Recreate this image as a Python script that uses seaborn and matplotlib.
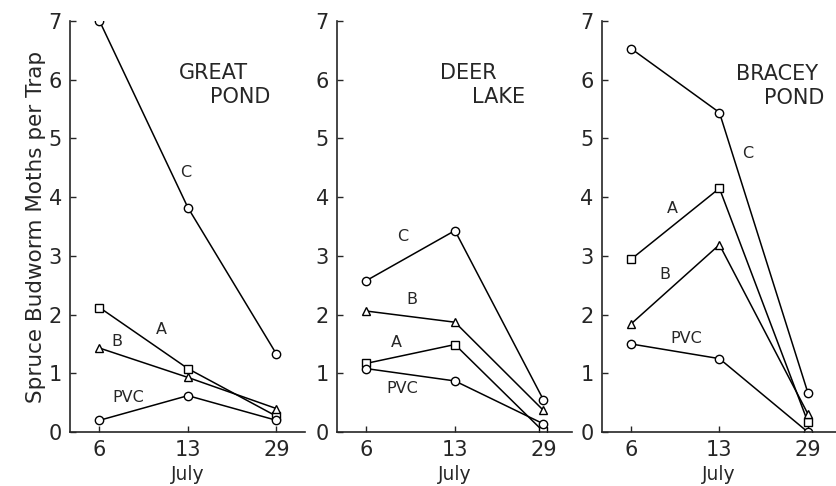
"""Spruce budworm moths per trap - three sites"""

from matplotlib import pyplot as plt
import seaborn as sns

days = ["6", "13", "29"]
sites = ["GREAT POND", "DEER LAKE", "BRACEY POND"]

# trap values, one list per trap type and site
great_c = [7.0, 3.82, 1.33]
great_a = [2.12, 1.08, 0.27]
great_b = [1.43, 0.93, 0.40]
great_pvc = [0.20, 0.62, 0.20]

deer_c = [2.58, 3.43, 0.55]
deer_a = [1.17, 1.49, 0.01]
deer_b = [2.06, 1.87, 0.37]
deer_pvc = [1.08, 0.87, 0.14]

bracey_c = [6.53, 5.44, 0.67]
bracey_a = [2.94, 4.15, 0.17]
bracey_b = [1.84, 3.19, 0.31]
bracey_pvc = [1.50, 1.25, 0.0]

markers = {"C": "o", "A": "s", "B": "^", "PVC": "o"}

# where the curve names and site names sit (x = category index, y = data)
label_pos = [
    {"C": (0.97, 4.42), "A": (0.70, 1.74), "B": (0.20, 1.54), "PVC": (0.33, 0.58)},
    {"C": (0.41, 3.33), "A": (0.34, 1.52), "B": (0.51, 2.25), "PVC": (0.40, 0.75)},
    {"C": (1.32, 4.74), "A": (0.47, 3.81), "B": (0.38, 2.69), "PVC": (0.63, 1.60)},
]
title_pos = [
    [(1.29, 6.12), (1.59, 5.70)],
    [(1.15, 6.12), (1.49, 5.70)],
    [(1.65, 6.10), (1.85, 5.68)],
]

data = [
    {"C": great_c, "A": great_a, "B": great_b, "PVC": great_pvc},
    {"C": deer_c, "A": deer_a, "B": deer_b, "PVC": deer_pvc},
    {"C": bracey_c, "A": bracey_a, "B": bracey_b, "PVC": bracey_pvc},
]

sns.set_style("ticks")
plt.rcParams["font.family"] = ["DejaVu Sans"]

fig = plt.figure(figsize=(8.37, 4.86), dpi=100)
lefts = [0.084, 0.403, 0.719]
axes = [fig.add_axes([l, 0.111, 0.28, 0.846]) for l in lefts]

for i, ax in enumerate(axes):
    for name, vals in data[i].items():
        sns.pointplot(x=days, y=vals, order=days, color="black",
                      markers=markers[name], markersize=6,
                      markerfacecolor="white", markeredgewidth=1.0,
                      linewidth=1.1, errorbar=None, ax=ax)
    for name, (lx, ly) in label_pos[i].items():
        ax.text(lx, ly, name, ha="center", va="center", fontsize=11.5)
    words = sites[i].split()
    for w, (tx, ty) in zip(words, title_pos[i]):
        ax.text(tx, ty, w, ha="center", va="center", fontsize=15)

    ax.set_xlim(-0.33, 2.32)
    ax.set_ylim(0, 7)
    ax.set_yticks(range(8))
    ax.set_xlabel("July", fontsize=13.5, labelpad=3)
    ax.set_ylabel("")
    ax.tick_params(direction="in", length=4, width=1, labelsize=15, pad=6)
    sns.despine(ax=ax)
    ax.spines["left"].set_linewidth(1.2)
    ax.spines["bottom"].set_linewidth(1.2)

axes[0].set_ylabel("Spruce Budworm Moths per Trap", fontsize=15.5, labelpad=2)

plt.savefig("out.png", dpi=100)
print('ok')
